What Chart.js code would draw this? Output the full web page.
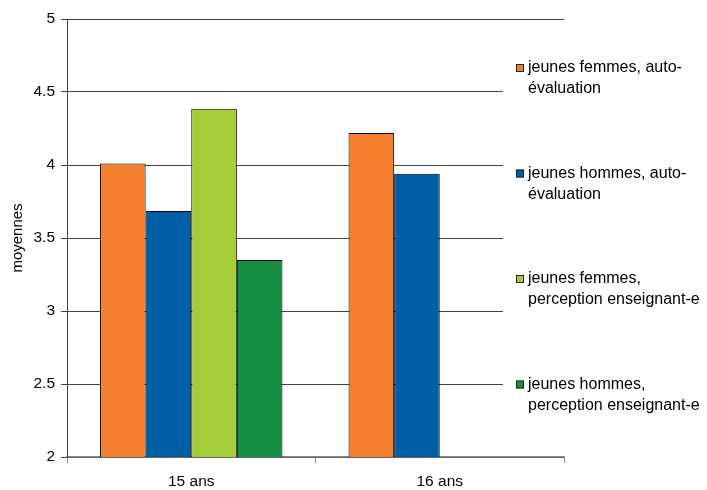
<!DOCTYPE html>
<html>
<head>
<meta charset="utf-8">
<script src="https://cdn.jsdelivr.net/npm/chart.js@4/dist/chart.umd.min.js"></script>
<style>
  html, body { margin: 0; padding: 0; background: #fff; }
  #wrap { width: 707px; height: 490px; }
</style>
</head>
<body>
<div id="wrap"><canvas id="c" width="707" height="490"></canvas></div>
<script>
// données
const categories = ['15 ans', '16 ans'];
const femmesAuto = [4.01, 4.22];
const hommesAuto = [3.685, 3.94];
const femmesEns = [4.385, null];
const hommesEns = [3.35, null];
const seriesLabels = [
  ['jeunes femmes, auto-', 'évaluation'],
  ['jeunes hommes, auto-', 'évaluation'],
  ['jeunes femmes,', 'perception enseignant-e'],
  ['jeunes hommes,', 'perception enseignant-e']
];
const colors = ['#F37F2F', '#005EA4', '#A5CD3A', '#168D44'];
const yTicks = [2, 2.5, 3, 3.5, 4, 4.5, 5];

const FONT = '"Liberation Sans", Arial, sans-serif';

// légende dessinée à la main (texte sur deux lignes, fond blanc qui coupe la grille)
const sideLegend = {
  id: 'sideLegend',
  afterDraw(chart) {
    const ctx = chart.ctx;
    ctx.save();
    ctx.fillStyle = '#fff';
    ctx.fillRect(503, 28, 204, 424);
    ctx.font = '16px ' + FONT;
    ctx.textBaseline = 'middle';
    chart.data.datasets.forEach((ds, i) => {
      const y = 68 + i * 105.5;
      ctx.fillStyle = ds.backgroundColor;
      ctx.fillRect(516, y - 4, 8, 8);
      ctx.strokeStyle = '#222';
      ctx.lineWidth = 1;
      ctx.strokeRect(516.5, y - 3.5, 7, 7);
      ctx.fillStyle = '#000';
      seriesLabels[i].forEach((line, k) => {
        ctx.fillText(line, 528, y + k * 21);
      });
    });
    ctx.restore();
  }
};

const ctx = document.getElementById('c').getContext('2d');
new Chart(ctx, {
  type: 'bar',
  data: {
    labels: categories,
    datasets: [femmesAuto, hommesAuto, femmesEns, hommesEns].map((d, i) => ({
      label: seriesLabels[i].join(' '),
      data: d,
      backgroundColor: colors[i],
      borderColor: '#000',
      borderWidth: 1,
      categoryPercentage: 0.734,
      barPercentage: 1
    }))
  },
  options: {
    responsive: false,
    animation: false,
    layout: { padding: { top: 19, right: 143, left: 0, bottom: 0 } },
    plugins: {
      legend: { display: false },
      tooltip: { enabled: false }
    },
    scales: {
      x: {
        offset: true,
        grid: { offset: true, drawOnChartArea: false, color: '#888', tickLength: 6 },
        border: { color: '#888', width: 1.5 },
        ticks: { color: '#000', font: { family: FONT, size: 15.5 }, padding: 9 },
        afterFit(s) { s.height = 33; }
      },
      y: {
        min: 2,
        max: 5,
        afterBuildTicks(s) { s.ticks = yTicks.map(v => ({ value: v })); },
        grid: { color: '#444', tickLength: 6 },
        border: { color: '#444' },
        ticks: { color: '#000', font: { family: FONT, size: 15.5 }, padding: 6, callback: v => String(v) },
        title: { display: true, text: 'moyennes', color: '#000', font: { family: FONT, size: 15 }, padding: { top: 9, bottom: 0 } },
        afterFit(s) { s.width = 67; }
      }
    }
  },
  plugins: [sideLegend]
});
</script>
</body>
</html>
